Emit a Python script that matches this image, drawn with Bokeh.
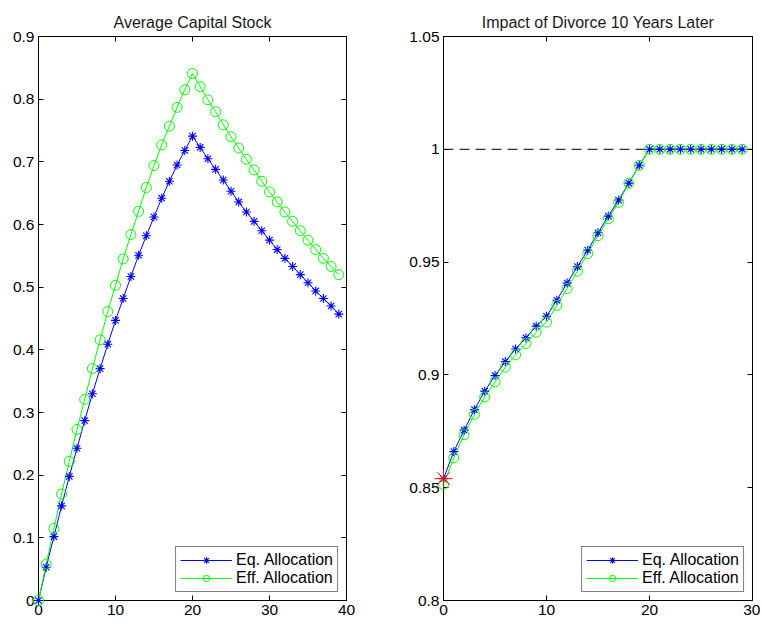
from bokeh.plotting import figure
from bokeh.layouts import row
from bokeh.models import LinearAxis, FixedTicker, Span, Legend, LegendItem, Range1d
from bokeh.embed import file_html
from bokeh.resources import INLINE

# ---------------- data ----------------
left_title = "Average Capital Stock"
right_title = "Impact of Divorce 10 Years Later"
series_names = ["Eq. Allocation", "Eff. Allocation"]

left_t = list(range(40))
left_eq = [0, 0.053, 0.102, 0.151, 0.198, 0.243, 0.287, 0.330, 0.370, 0.409,
           0.447, 0.482, 0.517, 0.551, 0.582, 0.612, 0.642, 0.669, 0.695, 0.718,
           0.741, 0.723, 0.705, 0.688, 0.671, 0.653, 0.636, 0.620, 0.605, 0.590,
           0.575, 0.560, 0.546, 0.533, 0.520, 0.507, 0.494, 0.482, 0.470, 0.457]
left_eff = [0, 0.058, 0.115, 0.170, 0.222, 0.273, 0.321, 0.370, 0.416, 0.461,
            0.503, 0.545, 0.584, 0.621, 0.659, 0.694, 0.727, 0.757, 0.787, 0.815,
            0.841, 0.820, 0.799, 0.780, 0.759, 0.740, 0.722, 0.704, 0.687, 0.669,
            0.652, 0.636, 0.620, 0.605, 0.590, 0.575, 0.560, 0.546, 0.533, 0.520]

right_t = list(range(30))
right_eq = [0.854, 0.866, 0.8755, 0.8846, 0.8928, 0.8997, 0.9059, 0.9115, 0.9164, 0.9216,
            0.926, 0.9331, 0.9407, 0.948, 0.9553, 0.963, 0.9704, 0.9775, 0.985, 0.9929,
            1, 1, 1, 1, 1, 1, 1, 1, 1, 1]
right_eff = [0.8515, 0.8632, 0.8735, 0.8825, 0.8902, 0.8969, 0.9034, 0.9089, 0.9139, 0.9189,
             0.9234, 0.9308, 0.9383, 0.946, 0.9538, 0.9617, 0.9692, 0.9765, 0.985, 0.9929,
             1, 1, 1, 1, 1, 1, 1, 1, 1, 1]
divorce_t = [0]
divorce_val = [0.854]
reference_level = 1.0

left_xticks = [0, 10, 20, 30, 40]
left_xlabels = ["0", "10", "20", "30", "40"]
left_yticks = [0, 0.1, 0.2, 0.3, 0.4, 0.5, 0.6, 0.7, 0.8, 0.9]
left_ylabels = ["0", "0.1", "0.2", "0.3", "0.4", "0.5", "0.6", "0.7", "0.8", "0.9"]
right_xticks = [0, 10, 20, 30]
right_xlabels = ["0", "10", "20", "30"]
right_yticks = [0.8, 0.85, 0.9, 0.95, 1, 1.05]
right_ylabels = ["0.8", "0.85", "0.9", "0.95", "1", "1.05"]

# ---------------- style ----------------
FONT = "Liberation Sans"
BLUE = "#0000ff"
GREEN = "#00ff00"
RED = "#ff0000"


def style_axis(ax, ticks, labels, show_labels):
    ax.ticker = FixedTicker(ticks=ticks)
    if show_labels:
        ax.major_label_overrides = dict(zip(ticks, labels))
    else:
        ax.major_label_overrides = {t: "" for t in ticks}
    ax.minor_tick_line_color = None
    ax.major_tick_in = 5
    ax.major_tick_out = 0
    ax.axis_line_color = "black"
    ax.axis_line_width = 1
    ax.major_tick_line_color = "black"
    ax.major_label_text_font = FONT
    ax.major_label_text_color = "black"
    ax.major_label_text_font_size = "15.5px"
    ax.major_label_standoff = 4 if show_labels else 0


def make_fig(title, width, xr, yr, xticks, xlabels, yticks, ylabels, mb):
    p = figure(width=width, height=620, output_backend="svg", toolbar_location=None,
               x_range=Range1d(*xr), y_range=Range1d(*yr), title=title,
               min_border_left=mb[0], min_border_right=mb[1],
               min_border_top=mb[2], min_border_bottom=mb[3])
    p.title.text_font = FONT
    p.title.text_font_size = "16px"
    p.title.text_font_style = "normal"
    p.title.align = "center"
    p.title.text_color = "#1a1a1a"
    p.title.standoff = 11
    p.xgrid.grid_line_color = None
    p.ygrid.grid_line_color = None
    p.outline_line_color = None
    p.background_fill_color = "white"
    p.border_fill_color = "white"
    style_axis(p.xaxis[0], xticks, xlabels, True)
    style_axis(p.yaxis[0], yticks, ylabels, True)
    ra = LinearAxis()
    style_axis(ra, yticks, ylabels, False)
    p.add_layout(ra, "right")
    ta = LinearAxis()
    style_axis(ta, xticks, xlabels, False)
    p.add_layout(ta, "above")
    return p


def make_legend(items):
    lg = Legend(items=items, location="bottom_right")
    lg.border_line_color = "black"
    lg.border_line_width = 1
    lg.background_fill_color = "white"
    lg.background_fill_alpha = 1
    lg.label_text_font = FONT
    lg.label_text_font_size = "16px"
    lg.label_text_color = "black"
    lg.glyph_width = 52
    lg.glyph_height = 16
    lg.label_height = 16
    lg.label_standoff = 4
    lg.spacing = 0
    lg.padding = 4
    lg.margin = 8
    return lg


# ---------------- left panel ----------------
p1 = make_fig(left_title, 380, (0, 40), (0, 0.9), left_xticks, left_xlabels,
              left_yticks, left_ylabels, (38, 34, 36, 20))
l1 = p1.line(left_t, left_eq, line_color=BLUE, line_width=1)
s1 = p1.scatter(left_t, left_eq, marker="asterisk", size=9, line_color=BLUE, line_width=1.1,
                level="overlay")
l2 = p1.line(left_t, left_eff, line_color=GREEN, line_width=1)
s2 = p1.scatter(left_t, left_eff, marker="circle", size=10, line_color=GREEN,
                fill_color=None, line_width=1, level="overlay")
p1.add_layout(make_legend([LegendItem(label=series_names[0], renderers=[l1, s1]),
                           LegendItem(label=series_names[1], renderers=[l2, s2])]))

# ---------------- right panel ----------------
p2 = make_fig(right_title, 380, (0, 30), (0.8, 1.05), right_xticks, right_xlabels,
              right_yticks, right_ylabels, (63, 8, 36, 20))
r1 = p2.line(right_t, right_eq, line_color=BLUE, line_width=1)
rs1 = p2.scatter(right_t, right_eq, marker="asterisk", size=9, line_color=BLUE, line_width=1.1,
                 level="overlay")
r2 = p2.line(right_t, right_eff, line_color=GREEN, line_width=1)
rs2 = p2.scatter(right_t, right_eff, marker="circle", size=10, line_color=GREEN,
                 fill_color=None, line_width=1, level="overlay")
p2.scatter(divorce_t, divorce_val, marker="asterisk", size=18, line_color=RED, line_width=1,
           level="overlay")
p2.add_layout(Span(location=reference_level, dimension="width", line_color="black",
                   line_width=1, line_dash="10 6"))
p2.add_layout(make_legend([LegendItem(label=series_names[0], renderers=[r1, rs1]),
                           LegendItem(label=series_names[1], renderers=[r2, rs2])]))

layout = row(p1, p2)
open("out.html", "w").write(file_html(layout, INLINE))
